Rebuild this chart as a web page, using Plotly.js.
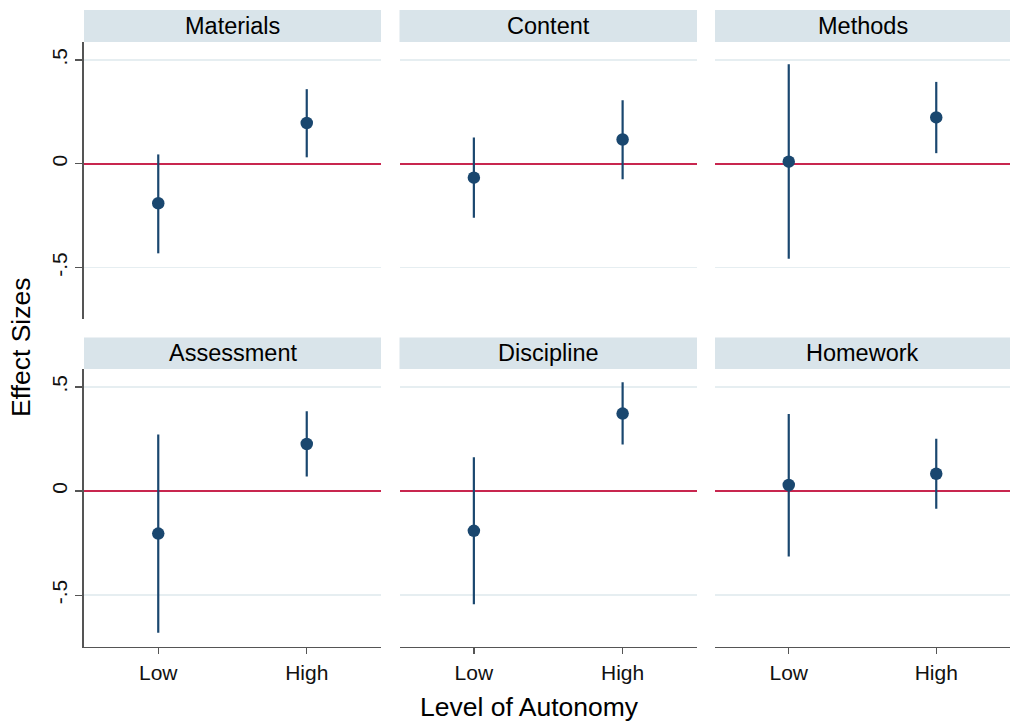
<!DOCTYPE html>
<html>
<head>
<meta charset="utf-8">
<script src="https://cdn.plot.ly/plotly-3.0.1.min.js"></script>
<style>html,body{margin:0;padding:0;background:#fff;}#chart{width:1010px;height:721px;}</style>
</head>
<body>
<div id="chart"></div>
<script>
// ---- data ----
const panels   = ["Materials", "Content", "Methods", "Assessment", "Discipline", "Homework"];
const levels   = ["Low", "High"];
const lowEst   = [-0.190, -0.067, 0.010, -0.204, -0.191, 0.029];
const lowCIlo  = [-0.431, -0.260, -0.457, -0.680, -0.543, -0.314];
const lowCIhi  = [0.045, 0.127, 0.479, 0.271, 0.162, 0.370];
const highEst  = [0.196, 0.117, 0.223, 0.226, 0.372, 0.083];
const highCIlo = [0.031, -0.074, 0.051, 0.070, 0.224, -0.085];
const highCIhi = [0.359, 0.306, 0.394, 0.383, 0.522, 0.251];
const yTickVals = [-0.5, 0, 0.5];
const yTickText = ["-.5", "0", ".5"];

// ---- layout helpers ----
const W = 1010, H = 721;
const px = v => v / W;
const py = v => 1 - v / H;
const colX = [[84, 381], [399.5, 697], [715, 1010]];
const rowY = [[42, 319], [369, 646.7]];
const stripY = [[10, 42], [337.5, 369]];

const NAVY = "#1a476f";
const RED = "#c8264f";
const FONT = "Liberation Sans, Arial, Helvetica, sans-serif";

const traces = [];
const layout = {
  width: W, height: H,
  margin: {l: 0, r: 0, t: 0, b: 0},
  paper_bgcolor: "#ffffff",
  plot_bgcolor: "#ffffff",
  showlegend: false,
  font: {family: FONT, color: "#000"},
  shapes: [],
  annotations: []
};

panels.forEach((name, i) => {
  const r = Math.floor(i / 3), c = i % 3;
  const k = i === 0 ? "" : String(i + 1);
  const est = [lowEst[i], highEst[i]];
  const hi = [lowCIhi[i], highCIhi[i]];
  const lo = [lowCIlo[i], highCIlo[i]];
  traces.push({
    type: "scatter", mode: "markers",
    x: levels, y: est,
    xaxis: "x" + k, yaxis: "y" + k,
    marker: {size: 12.5, color: NAVY},
    error_y: {
      type: "data", symmetric: false,
      array: est.map((e, j) => hi[j] - e),
      arrayminus: est.map((e, j) => e - lo[j]),
      width: 0, thickness: 2.2, color: NAVY
    },
    hoverinfo: "x+y"
  });
  const bottom = r === 1, left = c === 0;
  layout["xaxis" + k] = {
    domain: [px(colX[c][0]), px(colX[c][1])],
    anchor: "y" + k,
    type: "category",
    categoryorder: "array", categoryarray: levels,
    range: [-0.5, 1.5],
    showgrid: false, zeroline: false,
    showline: bottom, linecolor: "#555", linewidth: 1.6,
    ticks: bottom ? "outside" : "", ticklen: 6, tickwidth: 1.3, tickcolor: "#555",
    showticklabels: bottom,
    tickfont: {family: FONT, size: 21, color: "#111"},
    fixedrange: true
  };
  layout["yaxis" + k] = {
    domain: [py(rowY[r][1]), py(rowY[r][0])],
    anchor: "x" + k,
    range: [-0.747, 0.586],
    tickvals: yTickVals, ticktext: yTickText,
    showgrid: true, gridcolor: "#e6eef1", gridwidth: 1.5,
    zeroline: true, zerolinecolor: RED, zerolinewidth: 2.2,
    showline: left, linecolor: "#555", linewidth: 1.6,
    ticks: left ? "outside" : "", ticklen: 7, tickwidth: 1.3, tickcolor: "#555",
    showticklabels: left,
    tickangle: -90,
    tickfont: {family: FONT, size: 21, color: "#111"},
    fixedrange: true
  };
  // strip header
  layout.shapes.push({
    type: "rect", xref: "paper", yref: "paper",
    x0: px(colX[c][0]), x1: px(colX[c][1]),
    y0: py(stripY[r][1]), y1: py(stripY[r][0]),
    fillcolor: "#d9e4ea", line: {width: 0}, layer: "below"
  });
  layout.annotations.push({
    xref: "paper", yref: "paper",
    x: px((colX[c][0] + colX[c][1]) / 2),
    y: py((stripY[r][0] + stripY[r][1]) / 2),
    xanchor: "center", yanchor: "middle",
    text: name, showarrow: false,
    font: {family: FONT, size: 23.5, color: "#000"}
  });
});

layout.annotations.push({
  xref: "paper", yref: "paper", x: px(21), y: py(348),
  xanchor: "center", yanchor: "middle", textangle: -90,
  text: "Effect Sizes", showarrow: false,
  font: {family: FONT, size: 26.5, color: "#000"}
});
layout.annotations.push({
  xref: "paper", yref: "paper", x: px(529), y: py(707),
  xanchor: "center", yanchor: "middle",
  text: "Level of Autonomy", showarrow: false,
  font: {family: FONT, size: 26.5, color: "#000"}
});

Plotly.newPlot("chart", traces, layout, {displayModeBar: false, staticPlot: true});
</script>
</body>
</html>
